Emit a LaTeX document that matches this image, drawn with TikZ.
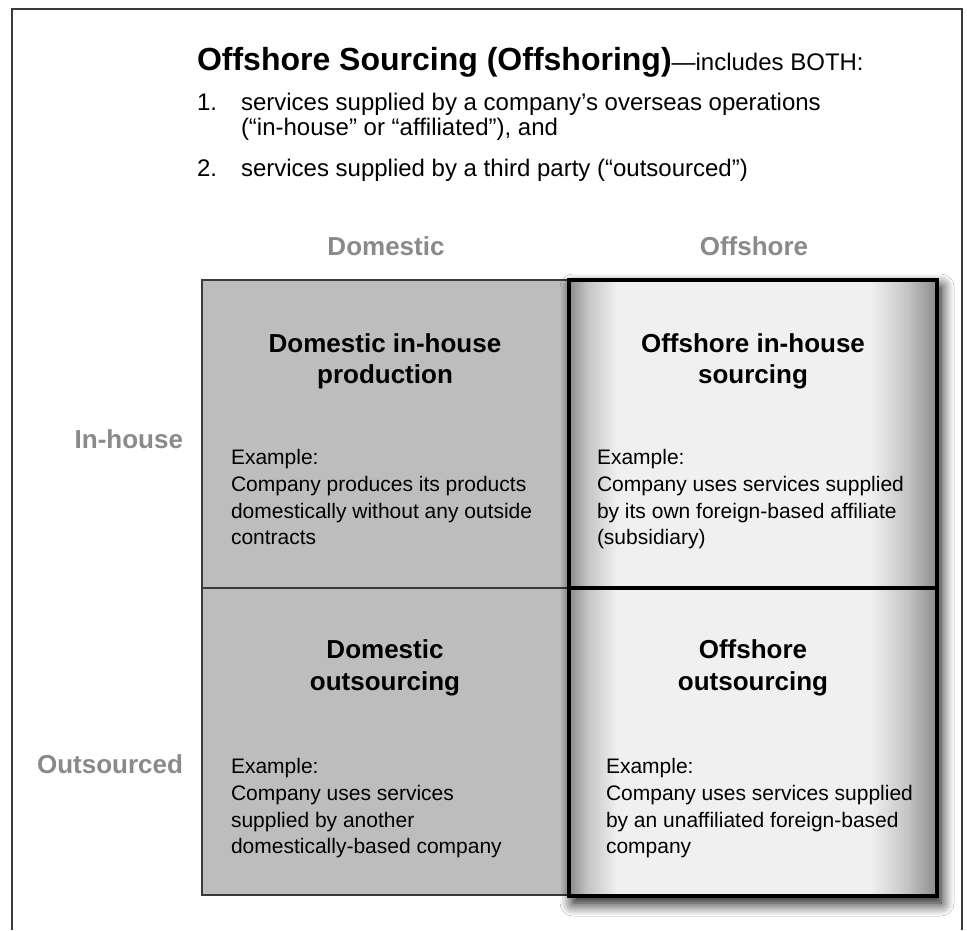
\documentclass[tikz,border=0pt]{standalone}
\usepackage{fontspec}
\setmainfont{Liberation Sans}
\usetikzlibrary{shadows.blur}
\definecolor{framegray}{HTML}{3A3A3A}
\definecolor{domfill}{HTML}{BDBDBD}
\definecolor{offfill}{HTML}{F0F0F0}
\definecolor{edgegray}{HTML}{8A8A8A}
\definecolor{midgray}{HTML}{C4C4C4}
\definecolor{headgray}{HTML}{8A8A8A}
% stops mapped into 25bp..75bp (TikZ fits that range to the path)
\pgfdeclarehorizontalshading{offshade}{100bp}{color(0bp)=(edgegray); color(25bp)=(edgegray); color(27.5bp)=(midgray); color(31.5bp)=(offfill); color(66bp)=(offfill); color(71bp)=(midgray); color(75bp)=(edgegray); color(100bp)=(edgegray)}
\tikzset{
  every node/.style={inner sep=0pt, outer sep=0pt},
  headtxt/.style={font=\fontsize{26}{31}\selectfont\bfseries, text=headgray},
  celltitle/.style={font=\fontsize{26}{31}\selectfont\bfseries, text=black, anchor=base},
  extxt/.style={font=\fontsize{21}{27}\selectfont, text=black, anchor=base west},
  listtxt/.style={font=\fontsize{24}{28}\selectfont, text=black, anchor=base west},
  dombox/.style={fill=domfill, draw=framegray, line width=1.2pt},
  offline/.style={draw=black, line width=4pt},
}
\begin{document}
\begin{tikzpicture}[x=1pt,y=-1pt]
\useasboundingbox (0,0) rectangle (967,930);
\fill[white] (0,0) rectangle (967,930);
% outer frame
\coordinate (fbl) at (12,930);
\coordinate (ftl) at (12,9);
\coordinate (ftr) at (962,9);
\coordinate (fbr) at (962,930);
\draw[framegray, line width=1.5pt] (fbl) -- (ftl) -- (ftr) -- (fbr);

% heading
\node[anchor=base west] (title) at (197,70)
  {{\fontsize{32}{38}\selectfont\bfseries Offshore Sourcing (Offshoring)}{\fontsize{24}{28}\selectfont ---includes BOTH:}};
\node[listtxt] (n1) at (197,110) {1.};
\node[listtxt] (l1a) at (241,110) {services supplied by a company’s overseas operations};
\node[listtxt] (l1b) at (241,135) {(“in-house” or “affiliated”), and};
\node[listtxt] (n2) at (197,176) {2.};
\node[listtxt] (l2) at (241,176) {services supplied by a third party (“outsourced”)};

% column / row headers
\node[headtxt, anchor=base] (hdom) at (386,255) {Domestic};
\node[headtxt, anchor=base] (hoff) at (754,255) {Offshore};
\node[headtxt, anchor=base east] (hin) at (183,448) {In-house};
\node[headtxt, anchor=base east] (hout) at (183,773) {Outsourced};

% domestic column
\draw[dombox] (202,280) rectangle (569,895);
\draw[framegray, line width=1.2pt] (202,588) -- (569,588);

% offshore column
\fill[white, blur shadow={shadow xshift=4pt, shadow yshift=-7pt, shadow blur radius=13pt, shadow blur steps=12, shadow opacity=100}] (569,280) rectangle (937,896);
\shade[shading=offshade] (569,280) rectangle (937,896);
\draw[offline] (569,280) rectangle (937,896);
\draw[offline] (569,588) -- (937,588);

% cell: domestic in-house
\node[celltitle] (dih1) at (385,352) {Domestic in-house};
\node[celltitle] (dih2) at (385,383) {production};
\node[extxt] (dihe1) at (231,464) {Example:};
\node[extxt] (dihe2) at (231,491) {Company produces its products};
\node[extxt] (dihe3) at (231,518) {domestically without any outside};
\node[extxt] (dihe4) at (231,544) {contracts};

% cell: offshore in-house
\node[celltitle] (oih1) at (753,352) {Offshore in-house};
\node[celltitle] (oih2) at (753,383) {sourcing};
\node[extxt] (oihe1) at (597,464) {Example:};
\node[extxt] (oihe2) at (597,491) {Company uses services supplied};
\node[extxt] (oihe3) at (597,518) {by its own foreign-based affiliate};
\node[extxt] (oihe4) at (597,544) {(subsidiary)};

% cell: domestic outsourcing
\node[celltitle] (do1) at (385,658) {Domestic};
\node[celltitle] (do2) at (385,690) {outsourcing};
\node[extxt] (doe1) at (231,773) {Example:};
\node[extxt] (doe2) at (231,800) {Company uses services};
\node[extxt] (doe3) at (231,827) {supplied by another};
\node[extxt] (doe4) at (231,853) {domestically-based company};

% cell: offshore outsourcing
\node[celltitle] (oo1) at (753,658) {Offshore};
\node[celltitle] (oo2) at (753,690) {outsourcing};
\node[extxt] (ooe1) at (606,773) {Example:};
\node[extxt] (ooe2) at (606,800) {Company uses services supplied};
\node[extxt] (ooe3) at (606,827) {by an unaffiliated foreign-based};
\node[extxt] (ooe4) at (606,853) {company};
\end{tikzpicture}
\end{document}
